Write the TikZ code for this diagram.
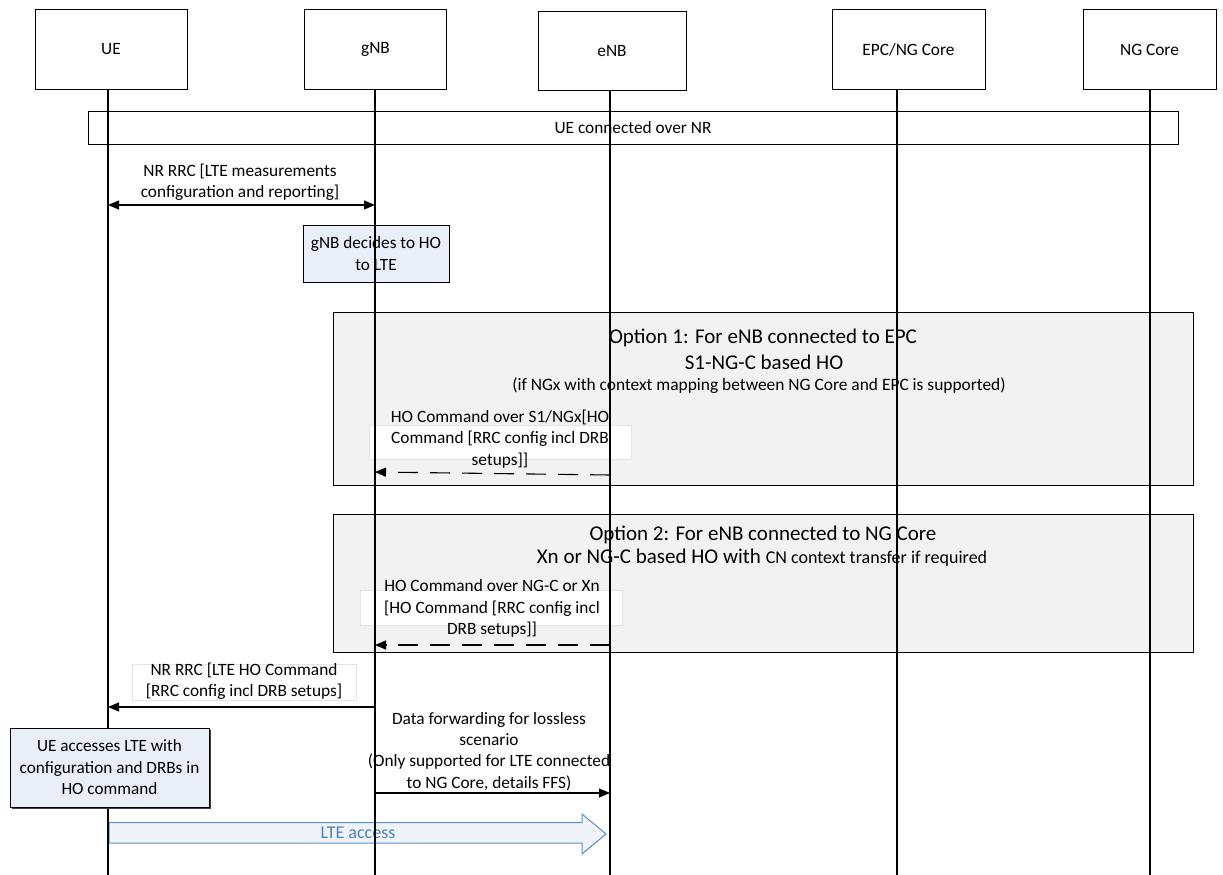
\documentclass[tikz,border=0pt]{standalone}
\usepackage{fontspec}
\setmainfont{Carlito}
\usetikzlibrary{arrows.meta}
\definecolor{optfill}{HTML}{F2F2F2}
\definecolor{bluefill}{HTML}{E9EFF8}
\definecolor{arrblue}{HTML}{5B8FC9}
\definecolor{txtblue}{HTML}{4F81BD}
\definecolor{faint}{HTML}{E4E4E4}
\tikzset{
  hdr/.style={draw, line width=1pt, fill=white, minimum height=79pt, font=\fontsize{17.3}{20}\selectfont},
  life/.style={line width=1.1pt},
  msg/.style={line width=1.1pt, -{Triangle[length=11pt,width=9pt]}},
  dmsg/.style={msg, dash pattern=on 20pt off 12pt},
  lbl/.style={align=center, font=\fontsize{17.3}{21.3}\selectfont, inner sep=0pt},
  optbox/.style={draw, line width=1pt, fill=optfill},
  notebox/.style={draw, line width=1pt, fill=bluefill, align=center, font=\fontsize{17.2}{21.5}\selectfont},
  faintbox/.style={draw=faint, line width=0.6pt, fill=white},
  big/.style={font=\fontsize{21}{24}\selectfont, inner sep=0pt}
}
\begin{document}
\begin{tikzpicture}[x=1pt,y=-1pt]
\useasboundingbox (0,0) rectangle (1223,875);
% header boxes
\node[hdr, minimum width=152pt] (ue) at (111,49.5) {UE};
\node[hdr, minimum width=142pt] (gnb) at (375.5,49.5) {gNB};
\node[hdr, minimum width=148pt] (enb) at (612,51) {eNB};
\node[hdr, minimum width=153pt] (epc) at (908.5,49.5) {EPC/NG Core};
\node[hdr, minimum width=133pt] (ngc) at (1149.5,49.5) {NG Core};
% lifeline end points
\coordinate (ueT) at (108,89);   \coordinate (ueB) at (108,875);
\coordinate (gnbT) at (375,89);  \coordinate (gnbB) at (375,875);
\coordinate (enbT) at (610,90);  \coordinate (enbB) at (610,875);
\coordinate (epcT) at (897,89);  \coordinate (epcB) at (897,875);
\coordinate (ngcT) at (1150,89); \coordinate (ngcB) at (1150,875);
% UE connected over NR
\node[draw, line width=1pt, minimum width=1090pt, minimum height=33pt, font=\fontsize{17.3}{20}\selectfont] (conn) at (633,127.5) {UE connected over NR};
% gNB decides
\node[notebox, minimum width=146pt, minimum height=57pt, inner sep=2pt] (dec) at (376,253.5) {gNB decides to HO\\to LTE};
% option boxes
\node[optbox, minimum width=860pt, minimum height=173pt] (opt1) at (763,398.5) {};
\node[optbox, minimum width=860pt, minimum height=138pt] (opt2) at (763,583) {};
\node[big] (o1a) at (763,338) {Option 1: For eNB connected to EPC};
\node[big] (o1b) at (764,362) {S1-NG-C based HO};
\node[inner sep=0pt, font=\fontsize{17.4}{20}\selectfont] (o1c) at (759,386) {(if NGx with context mapping between NG Core and EPC is supported)};
\node[big] (o2a) at (763,535) {Option 2: For eNB connected to NG Core};
\node[big] (o2b) at (762,558) {Xn or NG-C based HO with \fontsize{18}{20}\selectfont CN context transfer if required};
% faint label boxes
\draw[faintbox] (369,425) rectangle (631,459);
\draw[faintbox] (360,590) rectangle (622,625);
\draw[faintbox] (132,664) rectangle (356,700);
% labels
\node[lbl] (l1) at (240,182.5) {NR RRC [LTE measurements\\configuration and reporting]};
\node[lbl] (l2) at (500,439) {HO Command over S1/NGx[HO\\Command [RRC config incl DRB\\setups]]};
\node[lbl] (l3) at (492,608.5) {HO Command over NG-C or Xn\\{}[HO Command [RRC config incl\\DRB setups]]};
\node[lbl] (l4) at (244,681) {NR RRC [LTE HO Command\\{}[RRC config incl DRB setups]};
\node[lbl] (l5) at (489,751.5) {Data forwarding for lossless\\scenario\\(Only supported for LTE connected\\to NG Core, details FFS)};
% LTE access block arrow
\draw[arrblue, line width=1pt, fill=bluefill, fill opacity=0.7] (109,822.5) -- (582,822.5) -- (582,814) -- (606,834) -- (582,854) -- (582,843) -- (109,843) -- cycle;
\node[text=txtblue, font=\fontsize{18}{20}\selectfont, inner sep=0pt] (lte) at (358,832.5) {LTE access};
% lifelines
\draw[life] (ueT) -- (ueB);
\draw[life] (gnbT) -- (gnbB);
\draw[life] (enbT) -- (enbB);
\draw[life] (epcT) -- (epcB);
\draw[life] (ngcT) -- (ngcB);
% messages
\coordinate (m1a) at (108,205); \coordinate (m1b) at (375,205);
\draw[msg, {Triangle[length=11pt,width=9pt]}-{Triangle[length=11pt,width=9pt]}] (m1a) -- (m1b);
\coordinate (m2a) at (610,475); \coordinate (m2b) at (375,472);
\draw[dmsg] (m2a) -- (m2b);
\coordinate (m3a) at (610,645); \coordinate (m3b) at (375,645);
\draw[dmsg] (m3a) -- (m3b);
\coordinate (m4a) at (375,707); \coordinate (m4b) at (108,707);
\draw[msg] (m4a) -- (m4b);
\coordinate (m5a) at (375,793); \coordinate (m5b) at (610,793);
\draw[msg] (m5a) -- (m5b);
% UE accesses box
\fill[black!75] (12,730) rectangle (211,809);
\node[notebox, minimum width=199pt, minimum height=79pt, inner sep=2pt] (acc) at (109.5,767.5) {UE accesses LTE with\\configuration and DRBs in\\HO command};
\end{tikzpicture}
\end{document}
